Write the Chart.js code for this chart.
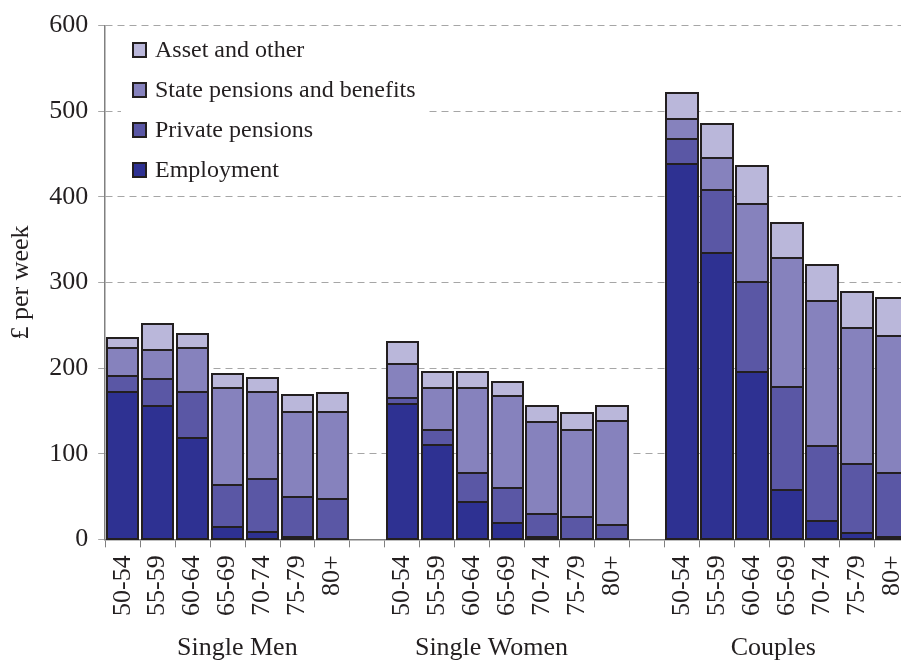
<!DOCTYPE html>
<html>
<head>
<meta charset="utf-8">
<script src="https://cdn.jsdelivr.net/npm/chart.js@4/dist/chart.umd.min.js"></script>
<style>
    html, body { margin: 0; padding: 0; background: #ffffff; overflow: hidden; }
    #wrap { position: absolute; left: 0; top: 0; width: 931px; height: 662px; }
</style>
</head>
<body>
<div id="wrap"><canvas id="incomeChart"></canvas></div>
<script>
// Age bands, repeated for each household type
const ageBands = ['50-54', '55-59', '60-64', '65-69', '70-74', '75-79', '80+'];
const groups = ['Single Men', 'Single Women', 'Couples'];
const yTicks = [0, 100, 200, 300, 400, 500, 600];

// £ per week (Single Men / Single Women / Couples)
const employmentMen = [172, 156, 118, 14, 9, 3, 0];
const employmentWomen = [158, 110, 44, 19, 3, 0, 0];
const employmentCouples = [438, 335, 195, 58, 21, 7, 3];

const privateMen = [19, 31, 54, 50, 61, 46, 47];
const privateWomen = [7, 18, 33, 41, 27, 26, 17];
const privateCouples = [30, 73, 106, 120, 88, 81, 74];

const stateMen = [33, 34, 52, 113, 102, 100, 102];
const stateWomen = [40, 49, 100, 107, 107, 102, 121];
const stateCouples = [23, 37, 91, 151, 169, 159, 161];

const assetMen = [11, 31, 16, 16, 17, 19, 22];
const assetWomen = [26, 18, 18, 17, 19, 19, 18];
const assetCouples = [30, 40, 44, 40, 42, 42, 44];

// one empty category between the household groups
const joinGroups = (a, b, c) => [...a, null, ...b, null, ...c];
const labels = [...ageBands, '', ...ageBands, '', ...ageBands];

const serif = "'Liberation Serif', 'Times New Roman', serif";
const ink = '#231f20';

const series = [
    { label: 'Employment', data: joinGroups(employmentMen, employmentWomen, employmentCouples), color: '#2e3192' },
    { label: 'Private pensions', data: joinGroups(privateMen, privateWomen, privateCouples), color: '#5a57a5' },
    { label: 'State pensions and benefits', data: joinGroups(stateMen, stateWomen, stateCouples), color: '#8682bd' },
    { label: 'Asset and other', data: joinGroups(assetMen, assetWomen, assetCouples), color: '#bab7da' }
];

// crisp 2px outlines on every stacked segment (snapped to whole pixels)
const outlinePlugin = {
    id: 'outline',
    afterDatasetsDraw(chart) {
        const ctx = chart.ctx;
        ctx.save();
        ctx.strokeStyle = ink;
        ctx.lineWidth = 2;
        chart.data.datasets.forEach((ds, i) => {
            chart.getDatasetMeta(i).data.forEach((bar, j) => {
                if (ds.data[j] === null) return;
                const p = bar.getProps(['x', 'y', 'base', 'width'], true);
                const l = Math.round(p.x - p.width / 2);
                const r = Math.round(p.x + p.width / 2);
                const t = Math.round(p.y);
                const b = Math.round(p.base);
                ctx.strokeRect(l, t, r - l, b - t);
            });
        });
        ctx.restore();
    }
};

// legend box sitting inside the plot, plus the group names under the axis
const extrasPlugin = {
    id: 'extras',
    afterDraw(chart) {
        const ctx = chart.ctx;
        ctx.save();
        ctx.fillStyle = '#ffffff';
        ctx.fillRect(121, 31, 305, 158);

        ctx.font = '24px ' + serif;
        ctx.textBaseline = 'middle';
        const order = series.slice().reverse();
        order.forEach((s, i) => {
            const y = 50 + i * 40;
            ctx.fillStyle = s.color;
            ctx.fillRect(133, y - 7, 13, 14);
            ctx.strokeStyle = ink;
            ctx.lineWidth = 2;
            ctx.strokeRect(133, y - 7, 13, 14);
            ctx.fillStyle = ink;
            ctx.fillText(s.label, 155, y + 1);
        });

        // group names sit at these (fractional) category positions
        const x = chart.scales.x;
        const at = [3.28, 10.55, 18.61];
        ctx.font = '26px ' + serif;
        ctx.textAlign = 'center';
        groups.forEach((g, i) => {
            ctx.fillText(g, x.getPixelForValue(at[i]), 648);
        });
        ctx.restore();
    }
};

new Chart(document.getElementById('incomeChart'), {
    type: 'bar',
    data: {
        labels: labels,
        datasets: series.map(s => ({
            label: s.label,
            data: s.data,
            backgroundColor: s.color,
            borderWidth: 0,
            barPercentage: 0.9,
            categoryPercentage: 1.0
        }))
    },
    options: {
        responsive: true,
        maintainAspectRatio: false,
        animation: false,
        layout: { padding: { top: 25, left: 6, right: 0, bottom: 38 } },
        scales: {
            x: {
                stacked: true,
                grid: { drawOnChartArea: false, offset: true, tickLength: 8, color: '#808080' },
                border: { color: '#808080', width: 1.5 },
                ticks: {
                    autoSkip: false,
                    maxRotation: 90,
                    minRotation: 90,
                    padding: 8,
                    color: ink,
                    font: { family: serif, size: 26 }
                }
            },
            y: {
                stacked: true,
                min: 0,
                max: 600,
                afterBuildTicks: axis => { axis.ticks = yTicks.map(v => ({ value: v })); },
                grid: { color: '#a6a6a6', tickLength: 7, tickBorderDash: [] },
                border: { color: '#808080', width: 1.5, dash: [7, 5] },
                title: {
                    display: true,
                    text: '£ per week',
                    color: ink,
                    font: { family: serif, size: 26 },
                    padding: { top: 0, bottom: 2 }
                },
                ticks: {
                    padding: 10,
                    color: ink,
                    font: { family: serif, size: 26 }
                }
            }
        },
        plugins: {
            legend: { display: false },
            tooltip: { enabled: false }
        }
    },
    plugins: [outlinePlugin, extrasPlugin]
});
</script>
</body>
</html>
